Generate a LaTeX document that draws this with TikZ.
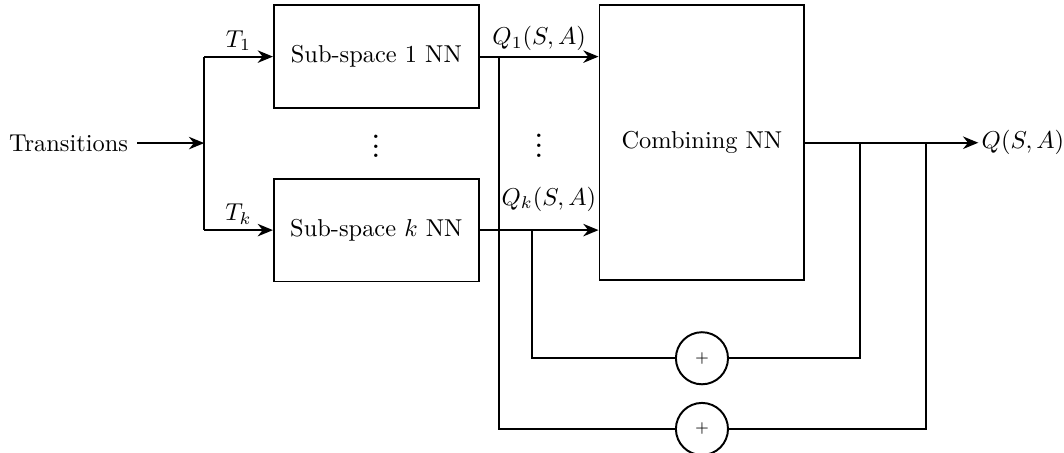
\documentclass[tikz,border=0pt]{standalone}
\usepackage{tikz}
\usetikzlibrary{arrows.meta,positioning,calc}

\begin{document}
\begin{tikzpicture}[
  font=\normalsize,
  line width=0.8pt,
  >={Stealth[length=2.2mm,width=1.8mm]},
  box/.style={draw,align=center,minimum width=29.5mm,minimum height=14.8mm,inner sep=0pt},
  adder/.style={draw,circle,minimum size=7.5mm,inner sep=0pt,font=\fontsize{6.5}{7}\selectfont},
  arr/.style={->},
  lbl/.style={above,inner sep=2pt},
  dots/.style={inner sep=0pt,font=\Large,yshift=0.6mm},
]
\useasboundingbox (-29.4mm,20.6mm) rectangle (123.8mm,-44.5mm);

\coordinate (split) at (0,0);
\node[left=9.65mm of split] (trans) {Transitions};
\node[box,right=9.9mm of split,yshift=12.45mm] (sub1) {Sub-space 1 NN};
\node[box,below=9.9mm of sub1] (subk) {Sub-space $k$ NN};
\node[box,minimum height=39.6mm,right=17.1mm of sub1.north east,anchor=north west] (comb) {Combining NN};
\node[right=24.9mm of comb.east,inner sep=1pt] (qout) {$Q(S,A)$};

\coordinate (qmid) at ($(sub1.east)!0.5!(comb.west|-sub1.east)$);
\node[dots] at ($(sub1)!0.5!(subk)$) (dotsa) {$\vdots$};
\node[dots] at (qmid|-comb) (dotsb) {$\vdots$};

\node[adder,below=7.2mm of comb] (add1) {+};
\node[adder,below=2.4mm of add1] (add2) {+};

% tap points on the outputs
\coordinate[right=2.7mm of sub1.east] (tap1);
\coordinate[right=7.5mm of subk.east] (tapk);
\coordinate[right=7.8mm of comb.east] (out1);
\coordinate[right=17.4mm of comb.east] (out2);

\draw[arr] (trans) -- (split);
\draw (sub1.west-|split) -- (subk.west-|split);
\draw[arr] (sub1.west-|split) -- node[lbl]{$T_1$} (sub1.west);
\draw[arr] (subk.west-|split) -- node[lbl]{$T_k$} (subk.west);
\draw[arr] (sub1.east) -- node[lbl]{$Q_1(S,A)$} (comb.west|-sub1.east);
\draw[arr] (subk.east) -- node[above=1.4mm,xshift=1.4mm]{$Q_k(S,A)$} (comb.west|-subk.east);
\draw[arr] (comb.east) -- (qout);

\draw (tapk) |- (add1.west);
\draw (add1.east) -| (out1);
\draw (tap1) |- (add2.west);
\draw (add2.east) -| (out2);

\end{tikzpicture}
\end{document}
